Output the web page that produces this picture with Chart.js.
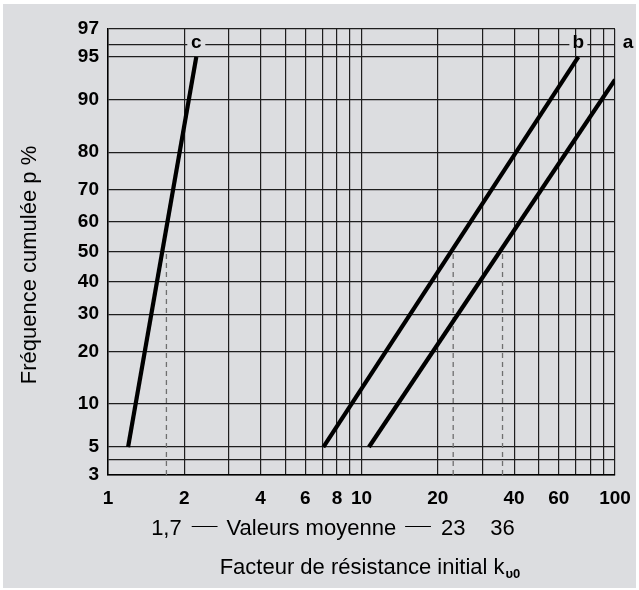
<!DOCTYPE html>
<html>
<head>
<meta charset="utf-8">
<script src="https://cdn.jsdelivr.net/npm/chart.js@4/dist/chart.umd.min.js"></script>
<style>
  html, body { margin: 0; padding: 0; background: #fff; }
  #wrap { width: 639px; height: 590px; }
</style>
</head>
<body>
<div id="wrap"><canvas id="chart" width="639" height="590"></canvas></div>
<script>
// axis ticks
const xGrid = [1, 2, 3, 4, 5, 6, 7, 8, 9, 10, 20, 30, 40, 50, 60, 70, 80, 90, 100];
const xLabels = [1, 2, 4, 6, 8, 10, 20, 40, 60, 100];
const yGrid = [3, 4, 5, 10, 20, 30, 40, 50, 60, 70, 80, 90, 95, 96, 97];
const yLabels = [3, 5, 10, 20, 30, 40, 50, 60, 70, 80, 90, 95, 97];

// the three distributions (k, cumulative %)
const seriesNames = ['c', 'b', 'a'];
const lineC_k = [1.2, 2.23];
const lineC_p = [5, 95];
const lineB_k = [7.07, 71.7];
const lineB_p = [5, 95];
const lineA_k = [10.7, 100];
const lineA_p = [5, 92.7];

// mean values (dashed lines up to 50 %)
const meanValues = [1.7, 23, 36];
const meanLabels = ['1,7', '23', '36'];
const meanP = 50;
const labelP = 96;

const FONT = '"Liberation Sans", Arial, sans-serif';
const BG = '#dcdde0';

// inverse normal cdf (Acklam), p in %
function probit(pct) {
    const p = pct / 100;
    const a = [-39.69683028665376, 220.9460984245205, -275.9285104469687, 138.3577518672690, -30.66479806614716, 2.506628277459239];
    const b = [-54.47609879822406, 161.5858368580409, -155.6989798598866, 66.80131188771972, -13.28068155288572];
    const c = [-0.007784894002430293, -0.3223964580411365, -2.400758277161838, -2.549732539343734, 4.374664141464968, 2.938163982698783];
    const d = [0.007784695709041462, 0.3224671290700398, 2.445134137142996, 3.754408661907416];
    const pl = 0.02425;
    let q, r;
    if (p < pl) {
        q = Math.sqrt(-2 * Math.log(p));
        return (((((c[0]*q+c[1])*q+c[2])*q+c[3])*q+c[4])*q+c[5]) / ((((d[0]*q+d[1])*q+d[2])*q+d[3])*q+1);
    }
    if (p <= 1 - pl) {
        q = p - 0.5; r = q * q;
        return (((((a[0]*r+a[1])*r+a[2])*r+a[3])*r+a[4])*r+a[5])*q / (((((b[0]*r+b[1])*r+b[2])*r+b[3])*r+b[4])*r+1);
    }
    q = Math.sqrt(-2 * Math.log(1 - p));
    return -(((((c[0]*q+c[1])*q+c[2])*q+c[3])*q+c[4])*q+c[5]) / ((((d[0]*q+d[1])*q+d[2])*q+d[3])*q+1);
}

function normCdf(z) {
    const t = 1 / (1 + 0.3275911 * Math.abs(z) / Math.SQRT2);
    const y = 1 - (((((1.061405429*t - 1.453152027)*t) + 1.421413741)*t - 0.284496736)*t + 0.254829592)*t * Math.exp(-z*z/2);
    return 50 * (1 + (z >= 0 ? y : -y));
}

// probability-paper scale
class ProbitScale extends Chart.Scale {
    static id = 'probit';
    static defaults = {};
    determineDataLimits() {
        this.min = this.options.min;
        this.max = this.options.max;
    }
    buildTicks() {
        return yGrid.map(v => ({ value: v }));
    }
    getLabelForValue(v) {
        return String(v);
    }
    configure() {
        super.configure();
        this._zmin = probit(this.min);
        this._zmax = probit(this.max);
    }
    getPixelForValue(v) {
        return this.getPixelForDecimal((probit(v) - this._zmin) / (this._zmax - this._zmin));
    }
    getValueForPixel(px) {
        const dec = this.getDecimalForPixel(px);
        return normCdf(this._zmin + dec * (this._zmax - this._zmin));
    }
}
Chart.register(ProbitScale);

function pts(ks, ps) {
    return ks.map((k, i) => ({ x: k, y: ps[i] }));
}

const thick = { borderColor: '#000', borderWidth: 4.2, pointRadius: 0, borderCapStyle: 'butt', fill: false };
const datasets = [
    { label: 'c', data: pts(lineC_k, lineC_p), ...thick },
    { label: 'b', data: pts(lineB_k, lineB_p), ...thick },
    { label: 'a', data: pts(lineA_k, lineA_p), ...thick }
];
meanValues.forEach(m => {
    datasets.push({
        label: 'mean ' + m,
        data: [{ x: m, y: yGrid[0] }, { x: m, y: meanP }],
        borderColor: '#6f6f6f', borderWidth: 1.3, borderDash: [5, 4],
        pointRadius: 0, fill: false
    });
});

const decorPlugin = {
    id: 'decor',
    beforeDraw(chart) {
        const ctx = chart.ctx;
        ctx.save();
        ctx.fillStyle = '#fff';
        ctx.fillRect(0, 0, chart.width, chart.height);
        ctx.fillStyle = BG;
        ctx.fillRect(3, 4, 633, 584);
        ctx.restore();
    },
    afterDraw(chart) {
        const ctx = chart.ctx;
        const xs = chart.scales.x, ys = chart.scales.y;
        const area = chart.chartArea;
        ctx.save();
        ctx.fillStyle = '#000';

        // series letters on the 96 % line
        const ly = ys.getPixelForValue(labelP);
        ctx.font = 'bold 19px ' + FONT;
        ctx.textAlign = 'center';
        ctx.textBaseline = 'alphabetic';
        const ends = [lineC_k[lineC_k.length - 1], lineB_k[lineB_k.length - 1], lineA_k[lineA_k.length - 1]];
        seriesNames.forEach((name, i) => {
            let lx = xs.getPixelForValue(ends[i]);
            if (lx >= area.right - 1) {
                lx = area.right + 13;
            } else {
                ctx.fillStyle = BG;
                ctx.fillRect(lx - 9, ly - 2, 18, 4);
                ctx.fillStyle = '#000';
            }
            ctx.fillText(name, lx, ly + 4);
        });

        // mean values row
        ctx.font = '22px ' + FONT;
        const rowY = 535;
        const mx = meanValues.map(v => xs.getPixelForValue(v));
        meanLabels.forEach((t, i) => ctx.fillText(t, mx[i], rowY));
        const leftEnd = mx[0] + ctx.measureText(meanLabels[0]).width / 2;
        const rightEnd = mx[1] - ctx.measureText(meanLabels[1]).width / 2;
        const midTxt = 'Valeurs moyenne';
        const mw = ctx.measureText(midTxt).width;
        const mc = (leftEnd + rightEnd) / 2;
        ctx.fillText(midTxt, mc, rowY);
        ctx.strokeStyle = '#000';
        ctx.lineWidth = 1;
        ctx.beginPath();
        ctx.moveTo(leftEnd + 10, rowY - 8.5);
        ctx.lineTo(mc - mw / 2 - 9, rowY - 8.5);
        ctx.moveTo(mc + mw / 2 + 9, rowY - 8.5);
        ctx.lineTo(rightEnd - 10, rowY - 8.5);
        ctx.stroke();

        // x title with subscript
        const main = 'Facteur de résistance initial k';
        const sub = 'υ0';
        ctx.font = '22px ' + FONT;
        const w1 = ctx.measureText(main).width;
        ctx.font = 'bold 13px ' + FONT;
        const w2 = ctx.measureText(sub).width;
        const sx = (area.left + area.right) / 2 - (w1 + w2) / 2 + 8;
        ctx.textAlign = 'left';
        ctx.font = '22px ' + FONT;
        ctx.fillText(main, sx, 574);
        ctx.font = 'bold 13px ' + FONT;
        ctx.fillText(sub, sx + w1 + 1, 578);

        // y title
        ctx.translate(36, 265);
        ctx.rotate(-Math.PI / 2);
        ctx.textAlign = 'center';
        ctx.font = '22px ' + FONT;
        ctx.fillText('Fréquence cumulée p %', 0, 0);
        ctx.restore();
    }
};

const gridStyle = { color: '#1e1e1e', lineWidth: 1.2, drawTicks: false };

new Chart(document.getElementById('chart'), {
    type: 'line',
    data: { datasets },
    options: {
        responsive: false,
        animation: false,
        events: [],
        layout: { padding: { left: 0, top: 29, right: 24, bottom: 0 } },
        plugins: { legend: { display: false }, tooltip: { enabled: false } },
        scales: {
            x: {
                type: 'logarithmic',
                min: 1,
                max: 100,
                grid: gridStyle,
                border: { color: '#000', width: 1.5 },
                afterBuildTicks: s => { s.ticks = xGrid.map(v => ({ value: v })); },
                afterFit: s => { s.height = 115; s.paddingLeft = 0; s.paddingRight = 0; },
                ticks: {
                    autoSkip: false,
                    maxRotation: 0,
                    padding: 12,
                    color: '#000',
                    font: { family: FONT, size: 19, weight: 'bold' },
                    callback: v => xLabels.includes(v) ? String(v) : ''
                }
            },
            y: {
                type: 'probit',
                min: 3,
                max: 97,
                grid: gridStyle,
                border: { color: '#000', width: 1.5 },
                afterFit: s => { s.width = 108; s.paddingTop = 0; s.paddingBottom = 0; },
                ticks: {
                    autoSkip: false,
                    padding: 9,
                    color: '#000',
                    font: { family: FONT, size: 19, weight: 'bold' },
                    callback: v => yLabels.includes(v) ? String(v) : ''
                }
            }
        }
    },
    plugins: [decorPlugin]
});
</script>
</body>
</html>
